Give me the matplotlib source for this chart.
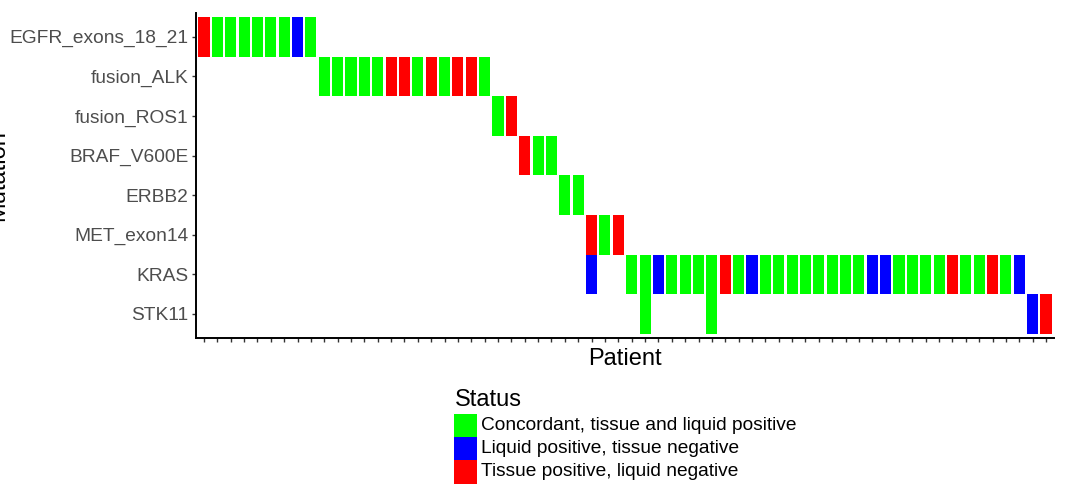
import matplotlib
matplotlib.use("Agg")
import matplotlib.pyplot as plt
import matplotlib.transforms as mtransforms
from matplotlib.patches import Rectangle

# Figure size in pixels
W, H = 1076, 492
DPI = 100

plt.rcParams['font.family'] = ['Liberation Sans', 'DejaVu Sans']

# ---- data -------------------------------------------------------------
genes = ["EGFR_exons_18_21", "fusion_ALK", "fusion_ROS1", "BRAF_V600E",
         "ERBB2", "MET_exon14", "KRAS", "STK11"]

status_codes = ["C", "L", "T"]
status_labels = ["Concordant, tissue and liquid positive",
                 "Liquid positive, tissue negative",
                 "Tissue positive, liquid negative"]
status_colors = ["#00FF00", "#0000FF", "#FF0000"]

n_patients = 64

egfr_patients = [1, 2, 3, 4, 5, 6, 7, 8, 9]
egfr_status = ["T", "C", "C", "C", "C", "C", "C", "L", "C"]

alk_patients = [10, 11, 12, 13, 14, 15, 16, 17, 18, 19, 20, 21, 22]
alk_status = ["C", "C", "C", "C", "C", "T", "T", "C", "T", "C", "T", "T", "C"]

ros1_patients = [23, 24]
ros1_status = ["C", "T"]

braf_patients = [25, 26, 27]
braf_status = ["T", "C", "C"]

erbb2_patients = [28, 29]
erbb2_status = ["C", "C"]

met_patients = [30, 31, 32]
met_status = ["T", "C", "T"]

kras_patients = [30, 33, 34, 35, 36, 37, 38, 39, 40, 41, 42, 43, 44, 45, 46,
                 47, 48, 49, 50, 51, 52, 53, 54, 55, 56, 57, 58, 59, 60, 61, 62]
kras_status = ["L", "C", "C", "L", "C", "C", "C", "C", "T", "C", "L", "C", "C",
               "C", "C", "C", "C", "C", "C", "L", "L", "C", "C", "C", "C", "T",
               "C", "C", "T", "C", "L"]

stk11_patients = [34, 39, 63, 64]
stk11_status = ["C", "C", "L", "T"]

# ---- figure -----------------------------------------------------------
def fx(px):
    return px / W


def fy(py):
    return 1 - py / H


fig = plt.figure(figsize=(W / DPI, H / DPI), dpi=DPI)
ax = fig.add_axes([fx(196), fy(337.7), fx(1054 - 196), (337.7 - 13) / H])

color_of = dict(zip(status_codes, status_colors))
rows = [(egfr_patients, egfr_status), (alk_patients, alk_status),
        (ros1_patients, ros1_status), (braf_patients, braf_status),
        (erbb2_patients, erbb2_status), (met_patients, met_status),
        (kras_patients, kras_status), (stk11_patients, stk11_status)]

for row, (pts, sts) in enumerate(rows, start=1):
    ax.bar(pts, 1.0, bottom=row - 0.5, width=0.83,
           color=[color_of[s] for s in sts], linewidth=0)

ax.set_xlim(0.4, n_patients + 0.6)
ax.set_ylim(len(genes) + 0.6, 0.4)
ax.set_yticks(range(1, len(genes) + 1), genes)
ax.set_xticks(range(1, n_patients + 1), [""] * n_patients)

for side in ("top", "right"):
    ax.spines[side].set_visible(False)
for side in ("left", "bottom"):
    ax.spines[side].set_linewidth(1.4)
    ax.spines[side].set_color("black")

ax.tick_params(axis="both", length=2.8, width=1.0, color="#333333",
               labelsize=13.75, labelcolor="#4D4D4D", pad=2.8)

# axis titles
ax.set_xlabel("Patient", fontsize=17, color="black", va="baseline")
ax.xaxis.set_label_coords(
    0.5, fy(365),
    transform=mtransforms.blended_transform_factory(ax.transAxes, fig.transFigure))
ax.set_ylabel("Mutation", fontsize=17, color="black")
ax.yaxis.set_label_coords(
    fx(9), 0.5,
    transform=mtransforms.blended_transform_factory(fig.transFigure, ax.transAxes))

# legend
fig.text(fx(455), fy(400), "Status", fontsize=17, ha="left", va="center")
key_w, key_h = 23.0, 23.4
for k, (lab, col) in enumerate(zip(status_labels, status_colors)):
    y_top = 413.5 + k * key_h
    fig.add_artist(Rectangle((fx(454), fy(y_top + key_h)), key_w / W, key_h / H,
                             transform=fig.transFigure, facecolor=col,
                             edgecolor="none"))
    fig.text(fx(481), fy(y_top + key_h / 2), lab, fontsize=13.75,
             ha="left", va="center", color="black")

fig.savefig("out.png", dpi=DPI)
